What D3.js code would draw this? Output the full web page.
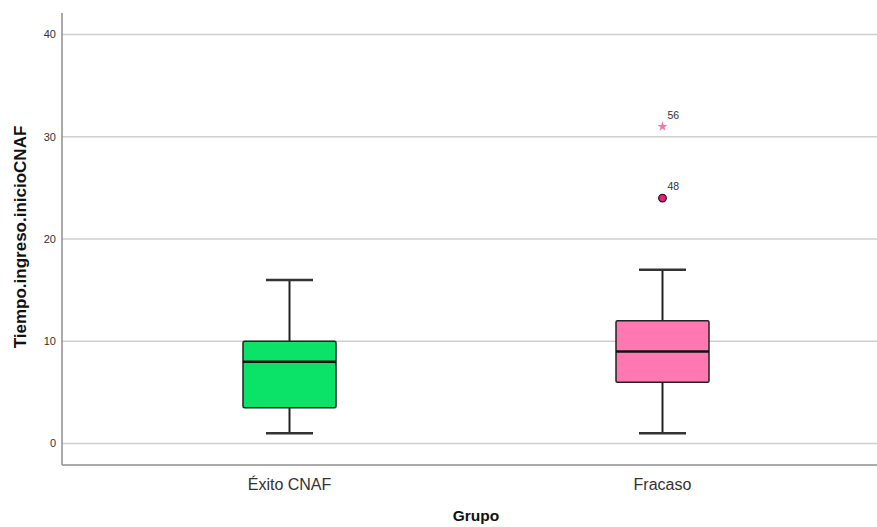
<!DOCTYPE html>
<html><head><meta charset="utf-8">
<script src="https://cdn.jsdelivr.net/npm/d3@7"></script>
<style>body{margin:0;background:#fff;} svg{display:block;}</style>
</head><body>
<svg id="chart" width="877" height="527"></svg>
<script>
const categories = ["Éxito CNAF", "Fracaso"];
const whiskerLow = [1, 1];
const q1 = [3.5, 6];
const median = [8, 9];
const q3 = [10, 12];
const whiskerHigh = [16, 17];
const boxColors = ["#0be368", "#ff78b2"];
const outlierValues = [24, 31];
const outlierGroup = ["Fracaso", "Fracaso"];
const outlierLabels = ["48", "56"];
const outlierShape = ["circle", "star"];
const yTicks = [0, 10, 20, 30, 40];

(function () {
const svg = d3.select("#chart");
const mLeft = 62, mRight = 877, mTop = 13, mBottom = 465;

const y = d3.scaleLinear().domain([0, 40]).range([443.5, 34.5]);
const x = d3.scalePoint().domain(categories).range([289.5, 662.5]);
const boxW = 93, capW = 47;
const font = "Arial, 'Liberation Sans', sans-serif";

// gridlines
svg.append("g").selectAll("line").data(yTicks).join("line")
  .attr("x1", mLeft).attr("x2", mRight)
  .attr("y1", d => y(d)).attr("y2", d => y(d))
  .attr("stroke", "#cfcfcf").attr("stroke-width", 1.5);

// axes lines
svg.append("line").attr("x1", mLeft).attr("x2", mLeft).attr("y1", mTop).attr("y2", mBottom)
  .attr("stroke", "#8f8f8f").attr("stroke-width", 1.5);
svg.append("line").attr("x1", mLeft).attr("x2", mRight).attr("y1", mBottom).attr("y2", mBottom)
  .attr("stroke", "#8f8f8f").attr("stroke-width", 1.5);

// y tick labels
svg.append("g").selectAll("text").data(yTicks).join("text")
  .attr("x", 56).attr("y", d => y(d)).attr("dy", "0.35em")
  .attr("text-anchor", "end").attr("font-family", font)
  .attr("font-size", 11).attr("fill", "#333").text(d => d);

// x labels
svg.append("g").selectAll("text").data(categories).join("text")
  .attr("x", d => x(d)).attr("y", 490)
  .attr("text-anchor", "middle").attr("font-family", font)
  .attr("font-size", 16).attr("fill", "#333").text(d => d);

// axis titles
svg.append("text").attr("x", 476).attr("y", 521).attr("text-anchor", "middle")
  .attr("font-family", font).attr("font-weight", "bold")
  .attr("font-size", 15.5).attr("fill", "#111").text("Grupo");
svg.append("text").attr("transform", "translate(26,237) rotate(-90)").attr("text-anchor", "middle")
  .attr("font-family", font).attr("font-weight", "bold")
  .attr("font-size", 17).attr("fill", "#111").text("Tiempo.ingreso.inicioCNAF");

// boxes
const g = svg.append("g");
categories.forEach((c, i) => {
  const cx = x(c);
  g.append("line").attr("x1", cx).attr("x2", cx).attr("y1", y(whiskerHigh[i])).attr("y2", y(q3[i]))
    .attr("stroke", "#222").attr("stroke-width", 2);
  g.append("line").attr("x1", cx).attr("x2", cx).attr("y1", y(q1[i])).attr("y2", y(whiskerLow[i]))
    .attr("stroke", "#222").attr("stroke-width", 2);
  [whiskerHigh[i], whiskerLow[i]].forEach(v => {
    g.append("line").attr("x1", cx - capW / 2).attr("x2", cx + capW / 2).attr("y1", y(v)).attr("y2", y(v))
      .attr("stroke", "#333").attr("stroke-width", 2.5);
  });
  g.append("rect").attr("x", cx - boxW / 2).attr("width", boxW)
    .attr("y", y(q3[i])).attr("height", y(q1[i]) - y(q3[i]))
    .attr("fill", boxColors[i]).attr("stroke", "#222").attr("stroke-width", 1.5).attr("rx", 1.5);
  g.append("line").attr("x1", cx - boxW / 2).attr("x2", cx + boxW / 2).attr("y1", y(median[i])).attr("y2", y(median[i]))
    .attr("stroke", "#111").attr("stroke-width", 2.5);
});

// outliers
outlierValues.forEach((v, i) => {
  const cx = x(outlierGroup[i]), cy = y(v);
  if (outlierShape[i] === "circle") {
    g.append("circle").attr("cx", cx).attr("cy", cy).attr("r", 3.8)
      .attr("fill", "#e0237a").attr("stroke", "#3a1020").attr("stroke-width", 1.3);
  } else {
    g.append("path").attr("d", d3.symbol(d3.symbolStar, 30)()).attr("transform", `translate(${cx},${cy})`)
      .attr("fill", "#ff6fae");
  }
  g.append("text").attr("x", cx + 5).attr("y", cy - 8)
    .attr("font-family", font).attr("font-size", 10.5).attr("fill", "#333")
    .text(outlierLabels[i]);
});
})();
</script>
</body></html>
